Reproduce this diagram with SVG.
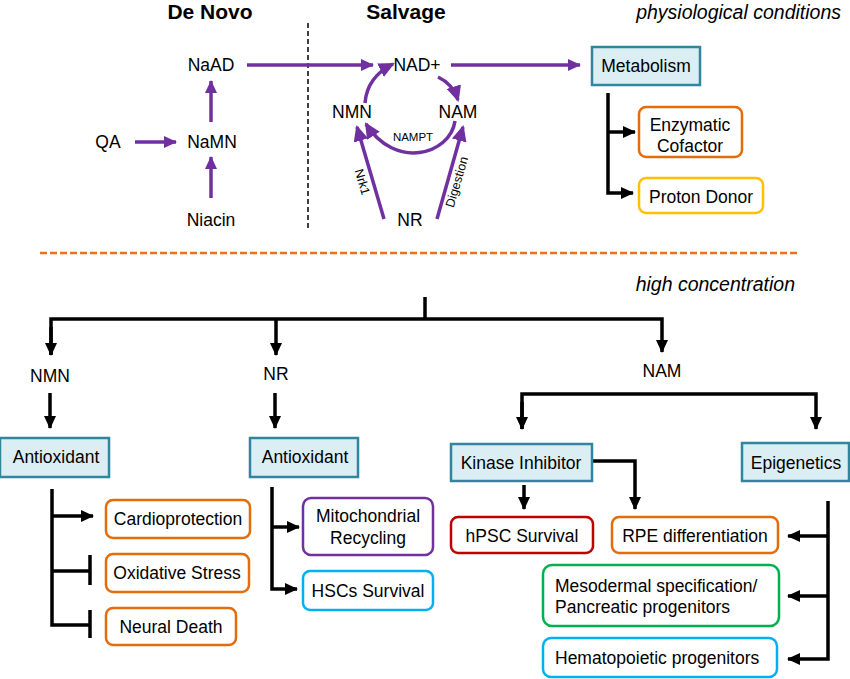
<svg xmlns="http://www.w3.org/2000/svg" width="850" height="679" viewBox="0 0 850 679">
<defs>
<marker id="ab" markerUnits="userSpaceOnUse" markerWidth="13" markerHeight="12" refX="12" refY="6" orient="auto"><path d="M0,0 L13,6 L0,12 z" fill="#000"/></marker>
<marker id="ap" markerUnits="userSpaceOnUse" markerWidth="13" markerHeight="12" refX="12" refY="6" orient="auto"><path d="M0,0 L13,6 L0,12 z" fill="#7030a0"/></marker>
<marker id="apl" markerUnits="userSpaceOnUse" markerWidth="16" markerHeight="15" refX="14" refY="7.5" orient="auto"><path d="M0,0 L16,7.5 L0,15 z" fill="#7030a0"/></marker>
<style>
text{font-family:"Liberation Sans",Arial,sans-serif;fill:#000}
.t{font-size:17.5px;text-anchor:middle}
.tl{font-size:17.5px}
.h{font-size:21px;font-weight:bold;text-anchor:middle}
.i{font-size:19.5px;font-style:italic;text-anchor:end}
.s{font-size:11.5px;text-anchor:middle}
.s2{font-size:12.5px;text-anchor:middle}
.bl{stroke:#000;stroke-width:3.5;fill:none}
.pu{stroke:#7030a0;stroke-width:3.5;fill:none}
.sq{fill:#dbeef4;stroke:#31859c;stroke-width:2.5}
.rb{fill:#fff;stroke-width:2.5}
.or{stroke:#e46c0a}
.go{stroke:#ffc000}
.pp{stroke:#7030a0}
.sk{stroke:#00b0f0}
.rd{stroke:#c00000}
.gr{stroke:#00b050}
</style>
</defs>
<rect width="850" height="679" fill="#fff"/>

<g id="headers">
<text class="h" x="210" y="19">De Novo</text>
<text class="h" x="406" y="19">Salvage</text>
<text class="i" x="841" y="19">physiological conditions</text>
<text class="i" x="795" y="291">high concentration</text>
</g>

<g id="dividers">
<line x1="308" y1="23" x2="308" y2="231" stroke="#000" stroke-width="1.5" stroke-dasharray="5 3"/>
<line x1="40" y1="253" x2="797" y2="253" stroke="#e8731c" stroke-width="2.5" stroke-dasharray="7 3"/>
</g>

<g id="connectors">
<!-- purple pathway -->
<line class="pu" x1="247" y1="65" x2="373" y2="65" marker-end="url(#ap)"/>
<line class="pu" x1="451" y1="65" x2="580" y2="65" marker-end="url(#ap)"/>
<line class="pu" x1="135" y1="142" x2="176" y2="142" marker-end="url(#ap)"/>
<line class="pu" x1="211" y1="122" x2="211" y2="81" marker-end="url(#ap)"/>
<line class="pu" x1="211" y1="198" x2="211" y2="157" marker-end="url(#ap)"/>
<line class="pu" x1="384" y1="219" x2="357" y2="127" marker-end="url(#apl)"/>
<line class="pu" x1="437" y1="219" x2="463" y2="127" marker-end="url(#apl)"/>
<path class="pu" d="M365,103 Q367,77 393,64" marker-end="url(#apl)"/>
<path class="pu" d="M438,77 Q453,84 458,100" marker-end="url(#apl)"/>
<path class="pu" d="M455,121 C450,155 395,170 366,124" marker-end="url(#apl)"/>
<!-- metabolism branches -->
<path class="bl" d="M608,93 V193 H633" marker-end="url(#ab)"/>
<line class="bl" x1="608" y1="132" x2="635" y2="132" marker-end="url(#ab)"/>
<!-- high concentration tree -->
<line class="bl" x1="425" y1="297" x2="425" y2="319"/>
<path class="bl" d="M51,355 V319 H662 V352" marker-end="url(#ab)"/>
<path class="bl" d="M51,327 V355" marker-end="url(#ab)"/>
<line class="bl" x1="276" y1="319" x2="276" y2="355" marker-end="url(#ab)"/>
<line class="bl" x1="50" y1="393" x2="50" y2="428" marker-end="url(#ab)"/>
<line class="bl" x1="275" y1="393" x2="275" y2="428" marker-end="url(#ab)"/>
<path class="bl" d="M522,429 V394 H816 V429" marker-end="url(#ab)"/>
<path class="bl" d="M522,402 V429" marker-end="url(#ab)"/>
<!-- NMN antioxidant branch -->
<path class="bl" d="M52,489 V625 H90"/>
<line class="bl" x1="52" y1="516" x2="93" y2="516" marker-end="url(#ab)"/>
<line class="bl" x1="52" y1="571" x2="90" y2="571"/>
<line class="bl" x1="90" y1="555" x2="90" y2="585"/>
<line class="bl" x1="90" y1="610" x2="90" y2="638"/>
<!-- NR antioxidant branch -->
<path class="bl" d="M272,487 V589 H297" marker-end="url(#ab)"/>
<line class="bl" x1="272" y1="527" x2="299" y2="527" marker-end="url(#ab)"/>
<!-- kinase -->
<line class="bl" x1="524" y1="485" x2="524" y2="509" marker-end="url(#ab)"/>
<path class="bl" d="M592,461 H635 V509" marker-end="url(#ab)"/>
<!-- epigenetics -->
<path class="bl" d="M828,501 V659 H788" marker-end="url(#ab)"/>
<line class="bl" x1="828" y1="536" x2="788" y2="536" marker-end="url(#ab)"/>
<line class="bl" x1="828" y1="596" x2="788" y2="596" marker-end="url(#ab)"/>
<!-- arrow labels -->
<text class="s" x="413" y="141">NAMPT</text>
<text class="s2" transform="translate(362,182) rotate(73.5)" dy="4">Nrk1</text>
<text class="s2" transform="translate(457,182) rotate(-73.5)" dy="4">Digestion</text>
</g>

<g id="n-naad"><text class="t" x="211" y="71">NaAD</text></g>
<g id="n-nad"><text class="t" x="417" y="71">NAD+</text></g>
<g id="n-nmn-top"><text class="t" x="352" y="118">NMN</text></g>
<g id="n-nam-top"><text class="t" x="458" y="118">NAM</text></g>
<g id="n-qa"><text class="t" x="108" y="148">QA</text></g>
<g id="n-namn"><text class="t" x="212" y="148">NaMN</text></g>
<g id="n-niacin"><text class="t" x="211" y="226">Niacin</text></g>
<g id="n-nr-top"><text class="t" x="410" y="226">NR</text></g>

<g id="n-metabolism"><rect class="sq" x="592" y="47" width="108" height="38"/><text class="t" x="646" y="72">Metabolism</text></g>
<g id="n-enzymatic"><rect class="rb or" x="639" y="107" width="103" height="50" rx="7"/><text class="t" x="690" y="131">Enzymatic</text><text class="t" x="690" y="152">Cofactor</text></g>
<g id="n-proton"><rect class="rb go" x="639" y="178" width="124" height="35" rx="7"/><text class="t" x="701" y="203">Proton Donor</text></g>

<g id="n-nmn"><text class="t" x="50" y="382">NMN</text></g>
<g id="n-nr"><text class="t" x="276" y="380">NR</text></g>
<g id="n-nam"><text class="t" x="662" y="377">NAM</text></g>

<g id="n-antiox1"><rect class="sq" x="0" y="438" width="109" height="39"/><text class="t" x="56" y="463">Antioxidant</text></g>
<g id="n-antiox2"><rect class="sq" x="250" y="438" width="108" height="39"/><text class="t" x="305" y="463">Antioxidant</text></g>
<g id="n-kinase"><rect class="sq" x="451" y="444" width="141" height="37"/><text class="t" x="521" y="469">Kinase Inhibitor</text></g>
<g id="n-epigenetics"><rect class="sq" x="742" y="443" width="107" height="38"/><text class="t" x="796" y="469">Epigenetics</text></g>

<g id="n-cardio"><rect class="rb or" x="106" y="500" width="144" height="38" rx="7"/><text class="t" x="178" y="525">Cardioprotection</text></g>
<g id="n-oxid"><rect class="rb or" x="106" y="554" width="143" height="38" rx="7"/><text class="t" x="177" y="579">Oxidative Stress</text></g>
<g id="n-neural"><rect class="rb or" x="106" y="608" width="130" height="37" rx="7"/><text class="t" x="171" y="633">Neural Death</text></g>

<g id="n-mito"><rect class="rb pp" x="303" y="498" width="130" height="57" rx="8"/><text class="t" x="368" y="522">Mitochondrial</text><text class="t" x="368" y="544">Recycling</text></g>
<g id="n-hsc"><rect class="rb sk" x="303" y="571" width="130" height="39" rx="7"/><text class="t" x="368" y="597">HSCs Survival</text></g>

<g id="n-hpsc"><rect class="rb rd" x="451" y="517" width="142" height="36" rx="7"/><text class="t" x="522" y="542">hPSC Survival</text></g>
<g id="n-rpe"><rect class="rb or" x="612" y="517" width="166" height="36" rx="7"/><text class="t" x="695" y="542">RPE differentiation</text></g>
<g id="n-meso"><rect class="rb gr" x="543" y="565" width="236" height="61" rx="9"/><text class="tl" x="555" y="592">Mesodermal specification/</text><text class="tl" x="555" y="613">Pancreatic progenitors</text></g>
<g id="n-hemato"><rect class="rb sk" x="543" y="638" width="234" height="39" rx="8"/><text class="tl" x="555" y="664">Hematopoietic progenitors</text></g>
</svg>
